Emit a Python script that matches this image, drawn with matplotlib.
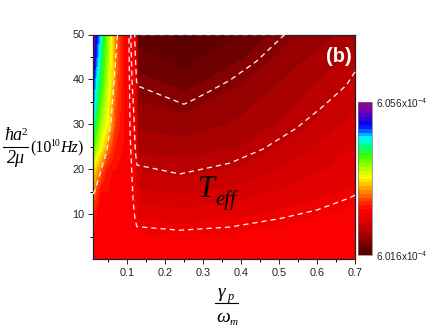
import numpy as np
import matplotlib
matplotlib.use("Agg")
import matplotlib.pyplot as plt
from matplotlib.colors import LinearSegmentedColormap

plt.rcParams['font.family'] = ['Liberation Sans', 'DejaVu Sans']
plt.rcParams['mathtext.default'] = 'regular'

W, H = 429, 332

gamma = [0.0105, 0.02, 0.03, 0.04, 0.05, 0.06, 0.07, 0.09, 0.105, 0.11, 0.12, 0.13, 0.25, 0.4, 0.55, 0.7]
hbar_a = [0, 5, 10, 15, 20, 25, 30, 35, 40, 45, 50]

# position between the two colourbar end values, one row per hbar_a value
row_00 = [.30, .30, .30, .30, .30, .30, .30, .30, .30, .30, .30, .30, .30, .30, .30, .30]
row_05 = [.30, .30, .30, .30, .30, .30, .30, .30, .30, .30, .295, .28, .27, .28, .295, .30]
row_10 = [.33, .30, .30, .30, .30, .30, .30, .30, .30, .30, .285, .24, .235, .245, .26, .285]
row_15 = [.43, .35, .30, .30, .30, .30, .30, .30, .30, .30, .28, .205, .195, .21, .235, .255]
row_20 = [.50, .44, .40, .34, .31, .30, .30, .30, .30, .30, .28, .172, .165, .178, .21, .24]
row_25 = [.64, .57, .52, .47, .40, .36, .32, .30, .30, .30, .27, .14, .135, .15, .19, .225]
row_30 = [.74, .65, .58, .53, .50, .42, .35, .30, .30, .30, .27, .12, .11, .13, .163, .21]
row_35 = [.80, .71, .63, .57, .52, .44, .37, .30, .30, .30, .26, .10, .088, .115, .15, .195]
row_40 = [.85, .75, .68, .61, .54, .48, .39, .30, .30, .30, .26, .082, .06, .095, .135, .175]
row_45 = [.92, .81, .72, .63, .56, .49, .40, .30, .30, .30, .26, .06, .037, .072, .118, .155]
row_50 = [1.0, .85, .76, .65, .58, .50, .41, .30, .30, .295, .26, .04, .015, .05, .10, .135]

# white dashed contours
c1_x = [.515, .44, .37, .32, .275, .25, .13, .125, .122, .12, .515]
c1_y = [50, 44, 39.8, 37.5, 35.5, 34.5, 38.5, 39.5, 45, 50, 50]
c2_x = [.7, .677, .614, .546, .457, .37, .239, .126, .122, .118, .113, .11]
c2_y = [41.7, 38.7, 33.9, 29.2, 24.5, 21.4, 19, 21, 24, 32, 40, 50]
c3_x = [.7, .686, .6, .503, .37, .239, .126, .121, .116, .108, .105]
c3_y = [14.3, 13.7, 11, 9.1, 7.2, 6.5, 7.3, 9, 13, 28, 50]
c4_x = [.075, .068, .058, .047, .037, .016, .0105]
c4_y = [50, 42, 31, 24.3, 21.4, 15.4, 14.5]

low, high = 6.016, 6.056

rows = np.array([row_00, row_05, row_10, row_15, row_20, row_25, row_30, row_35, row_40, row_45, row_50])
teff = low + (high - low) * rows

cmap = LinearSegmentedColormap.from_list("origin", [
    (0.0, "#500000"), (0.05, "#680000"), (0.09, "#880000"), (0.17, "#c00000"),
    (0.26, "#f00000"), (0.30, "#ff0000"), (0.36, "#ff4000"), (0.43, "#ff9900"),
    (0.51, "#ffff00"), (0.65, "#33ff00"), (0.71, "#00ff80"), (0.76, "#00ffff"),
    (0.85, "#0000ff"), (0.90, "#4000d0"), (0.95, "#8000a8"), (1.0, "#801090")])


def px_axes(x0, y0, x1, y1):
    return fig.add_axes([x0 / W, 1 - y1 / H, (x1 - x0) / W, (y1 - y0) / H])


def px_text(x, y, s, **kw):
    kw.setdefault('va', 'baseline')
    kw.setdefault('color', 'black')
    fig.text(x / W, 1 - y / H, s, **kw)


serif = dict(family=['Liberation Serif', 'DejaVu Serif'], style='italic')
roman = ['Liberation Serif', 'DejaVu Serif']

fig = plt.figure(figsize=(W / 100, H / 100), dpi=100)
ax = px_axes(93, 34.5, 355, 259.3)
levels = np.linspace(low, high, 41)
cf = ax.contourf(gamma, hbar_a, teff, levels=levels, cmap=cmap)

for cx, cy in [(c1_x, c1_y), (c2_x, c2_y), (c3_x, c3_y), (c4_x, c4_y)]:
    ax.plot(cx, cy, color='#fff0f0', lw=0.95, dashes=(4, 3), clip_on=False, zorder=5)

ax.set_xlim(0.0105, 0.7)
ax.set_ylim(0.04, 50)
ax.set_xticks([0.1, 0.2, 0.3, 0.4, 0.5, 0.6, 0.7])
ax.set_xticks([0.05, 0.15, 0.25, 0.35, 0.45, 0.55, 0.65], minor=True)
ax.set_yticks([10, 20, 30, 40, 50])
ax.set_yticks([5, 15, 25, 35, 45], minor=True)
ax.tick_params(labelsize=7.8, length=3.5, width=0.7, pad=2.5, colors='#222222')
ax.tick_params(which='minor', length=2, width=0.7)
for s in ax.spines.values():
    s.set_linewidth(0.9)
    s.set_color('#222222')

px_text(326, 62, "(b)", color='white', fontsize=14.5, fontweight='bold')
px_text(198, 197, "T", fontsize=22, **serif)
px_text(215, 205, "eff", fontsize=15, **serif)

cax = px_axes(358, 102, 372, 255)
cb = fig.colorbar(cf, cax=cax)
cb.set_ticks([low, high])
cb.set_ticklabels(["6.016x10$^{-4}$", "6.056x10$^{-4}$"])
cb.ax.tick_params(length=0, labelsize=7.2, pad=3, colors='#222222')
cb.outline.set_linewidth(0.5)
cb.outline.set_edgecolor('#777777')

# axis titles, fraction style
px_text(13, 140, "\u0127a", fontsize=13, ha='center', **serif)
px_text(24, 135, "2", fontsize=8, family=roman, ha='center')
fig.add_artist(plt.Line2D([3 / W, 28 / W], [1 - 147 / H, 1 - 147 / H], color='black', lw=0.8))
px_text(16, 163, "2\u03bc", fontsize=13, ha='center', **serif)
px_text(30, 152, "(10", fontsize=11.5, family=roman)
px_text(50, 146, "10", fontsize=7, family=roman)
px_text(60, 152, "Hz", fontsize=11.5, **serif)
px_text(77, 152, ")", fontsize=11.5, family=roman)

px_text(218, 297, "\u03b3", fontsize=14, **serif)
px_text(228, 300, "p", fontsize=9, **serif)
fig.add_artist(plt.Line2D([215 / W, 238 / W], [1 - 303 / H, 1 - 303 / H], color='black', lw=0.8))
px_text(216, 322, "\u03c9", fontsize=14, **serif)
px_text(230, 325, "m", fontsize=8, **serif)

fig.savefig("out.png", dpi=100)
